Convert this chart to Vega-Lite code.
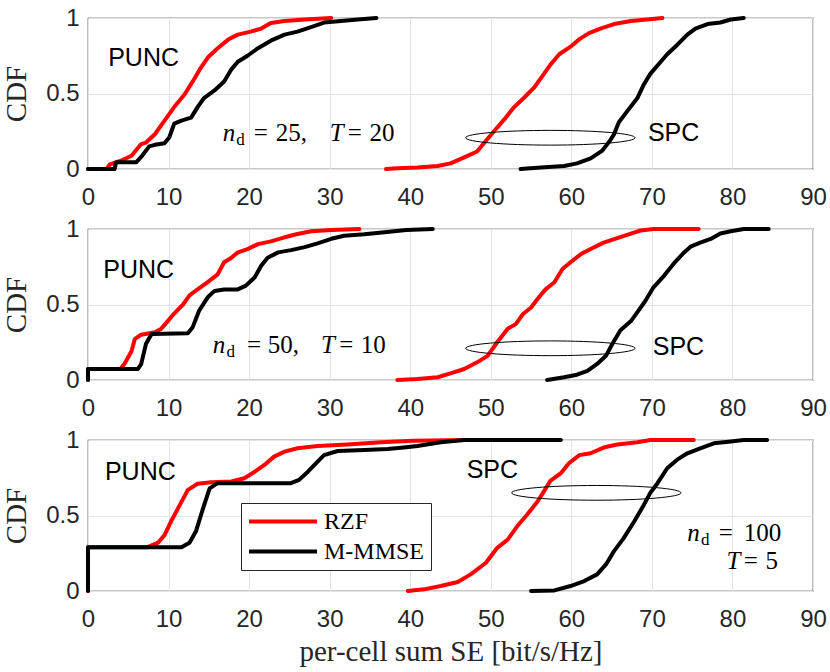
{
  "$schema": "https://vega.github.io/schema/vega-lite/v6.json",
  "padding": {"left": 2, "top": 5, "right": 2, "bottom": 2},
  "background": "white",
  "datasets": {
    "curves": [
      {"p":1,"m":"RZF","g":"PUNC","x":0,"y":0},{"p":1,"m":"RZF","g":"PUNC","x":2.3,"y":0},{"p":1,"m":"RZF","g":"PUNC","x":2.7,"y":0.03},{"p":1,"m":"RZF","g":"PUNC","x":4.1,"y":0.055},{"p":1,"m":"RZF","g":"PUNC","x":5.4,"y":0.088},{"p":1,"m":"RZF","g":"PUNC","x":6.6,"y":0.165},{"p":1,"m":"RZF","g":"PUNC","x":7.2,"y":0.175},{"p":1,"m":"RZF","g":"PUNC","x":8.3,"y":0.23},{"p":1,"m":"RZF","g":"PUNC","x":9.5,"y":0.32},{"p":1,"m":"RZF","g":"PUNC","x":10.7,"y":0.41},{"p":1,"m":"RZF","g":"PUNC","x":12.0,"y":0.495},{"p":1,"m":"RZF","g":"PUNC","x":13.0,"y":0.58},{"p":1,"m":"RZF","g":"PUNC","x":14.0,"y":0.67},{"p":1,"m":"RZF","g":"PUNC","x":14.9,"y":0.74},{"p":1,"m":"RZF","g":"PUNC","x":16.1,"y":0.8},{"p":1,"m":"RZF","g":"PUNC","x":17.4,"y":0.857},{"p":1,"m":"RZF","g":"PUNC","x":18.6,"y":0.89},{"p":1,"m":"RZF","g":"PUNC","x":20.2,"y":0.91},{"p":1,"m":"RZF","g":"PUNC","x":21.5,"y":0.93},{"p":1,"m":"RZF","g":"PUNC","x":22.7,"y":0.967},{"p":1,"m":"RZF","g":"PUNC","x":24.4,"y":0.98},{"p":1,"m":"RZF","g":"PUNC","x":26.9,"y":0.99},{"p":1,"m":"RZF","g":"PUNC","x":30.2,"y":1.0},
      {"p":1,"m":"M-MMSE","g":"PUNC","x":0,"y":0},{"p":1,"m":"M-MMSE","g":"PUNC","x":3.3,"y":0},{"p":1,"m":"M-MMSE","g":"PUNC","x":3.5,"y":0.045},{"p":1,"m":"M-MMSE","g":"PUNC","x":6.0,"y":0.045},{"p":1,"m":"M-MMSE","g":"PUNC","x":6.6,"y":0.08},{"p":1,"m":"M-MMSE","g":"PUNC","x":7.6,"y":0.15},{"p":1,"m":"M-MMSE","g":"PUNC","x":8.3,"y":0.16},{"p":1,"m":"M-MMSE","g":"PUNC","x":9.5,"y":0.17},{"p":1,"m":"M-MMSE","g":"PUNC","x":10.1,"y":0.21},{"p":1,"m":"M-MMSE","g":"PUNC","x":10.7,"y":0.3},{"p":1,"m":"M-MMSE","g":"PUNC","x":11.6,"y":0.32},{"p":1,"m":"M-MMSE","g":"PUNC","x":12.8,"y":0.34},{"p":1,"m":"M-MMSE","g":"PUNC","x":13.6,"y":0.41},{"p":1,"m":"M-MMSE","g":"PUNC","x":14.4,"y":0.47},{"p":1,"m":"M-MMSE","g":"PUNC","x":15.7,"y":0.52},{"p":1,"m":"M-MMSE","g":"PUNC","x":16.9,"y":0.58},{"p":1,"m":"M-MMSE","g":"PUNC","x":17.8,"y":0.66},{"p":1,"m":"M-MMSE","g":"PUNC","x":18.6,"y":0.71},{"p":1,"m":"M-MMSE","g":"PUNC","x":19.8,"y":0.75},{"p":1,"m":"M-MMSE","g":"PUNC","x":21.1,"y":0.8},{"p":1,"m":"M-MMSE","g":"PUNC","x":22.7,"y":0.85},{"p":1,"m":"M-MMSE","g":"PUNC","x":24.4,"y":0.89},{"p":1,"m":"M-MMSE","g":"PUNC","x":26.0,"y":0.91},{"p":1,"m":"M-MMSE","g":"PUNC","x":27.7,"y":0.94},{"p":1,"m":"M-MMSE","g":"PUNC","x":29.3,"y":0.97},{"p":1,"m":"M-MMSE","g":"PUNC","x":31.4,"y":0.98},{"p":1,"m":"M-MMSE","g":"PUNC","x":33.5,"y":0.99},{"p":1,"m":"M-MMSE","g":"PUNC","x":35.8,"y":1.0},
      {"p":1,"m":"RZF","g":"SPC","x":37.0,"y":0},{"p":1,"m":"RZF","g":"SPC","x":38.4,"y":0.005},{"p":1,"m":"RZF","g":"SPC","x":40.9,"y":0.01},{"p":1,"m":"RZF","g":"SPC","x":43.4,"y":0.02},{"p":1,"m":"RZF","g":"SPC","x":45.0,"y":0.037},{"p":1,"m":"RZF","g":"SPC","x":46.7,"y":0.077},{"p":1,"m":"RZF","g":"SPC","x":48.3,"y":0.116},{"p":1,"m":"RZF","g":"SPC","x":49.4,"y":0.187},{"p":1,"m":"RZF","g":"SPC","x":50.4,"y":0.25},{"p":1,"m":"RZF","g":"SPC","x":51.7,"y":0.33},{"p":1,"m":"RZF","g":"SPC","x":52.9,"y":0.41},{"p":1,"m":"RZF","g":"SPC","x":54.1,"y":0.47},{"p":1,"m":"RZF","g":"SPC","x":55.4,"y":0.54},{"p":1,"m":"RZF","g":"SPC","x":56.6,"y":0.63},{"p":1,"m":"RZF","g":"SPC","x":57.4,"y":0.69},{"p":1,"m":"RZF","g":"SPC","x":58.5,"y":0.76},{"p":1,"m":"RZF","g":"SPC","x":59.9,"y":0.81},{"p":1,"m":"RZF","g":"SPC","x":61.0,"y":0.86},{"p":1,"m":"RZF","g":"SPC","x":62.2,"y":0.9},{"p":1,"m":"RZF","g":"SPC","x":63.6,"y":0.93},{"p":1,"m":"RZF","g":"SPC","x":65.3,"y":0.96},{"p":1,"m":"RZF","g":"SPC","x":67.4,"y":0.98},{"p":1,"m":"RZF","g":"SPC","x":69.4,"y":0.99},{"p":1,"m":"RZF","g":"SPC","x":71.3,"y":1.0},
      {"p":1,"m":"M-MMSE","g":"SPC","x":53.7,"y":0},{"p":1,"m":"M-MMSE","g":"SPC","x":56.2,"y":0.01},{"p":1,"m":"M-MMSE","g":"SPC","x":59.1,"y":0.02},{"p":1,"m":"M-MMSE","g":"SPC","x":60.7,"y":0.037},{"p":1,"m":"M-MMSE","g":"SPC","x":62.4,"y":0.07},{"p":1,"m":"M-MMSE","g":"SPC","x":63.8,"y":0.12},{"p":1,"m":"M-MMSE","g":"SPC","x":64.7,"y":0.18},{"p":1,"m":"M-MMSE","g":"SPC","x":65.3,"y":0.23},{"p":1,"m":"M-MMSE","g":"SPC","x":65.9,"y":0.31},{"p":1,"m":"M-MMSE","g":"SPC","x":66.9,"y":0.38},{"p":1,"m":"M-MMSE","g":"SPC","x":68.2,"y":0.47},{"p":1,"m":"M-MMSE","g":"SPC","x":69.0,"y":0.56},{"p":1,"m":"M-MMSE","g":"SPC","x":69.8,"y":0.63},{"p":1,"m":"M-MMSE","g":"SPC","x":71.1,"y":0.71},{"p":1,"m":"M-MMSE","g":"SPC","x":71.9,"y":0.76},{"p":1,"m":"M-MMSE","g":"SPC","x":73.1,"y":0.82},{"p":1,"m":"M-MMSE","g":"SPC","x":74.4,"y":0.89},{"p":1,"m":"M-MMSE","g":"SPC","x":75.4,"y":0.93},{"p":1,"m":"M-MMSE","g":"SPC","x":76.9,"y":0.96},{"p":1,"m":"M-MMSE","g":"SPC","x":78.5,"y":0.97},{"p":1,"m":"M-MMSE","g":"SPC","x":79.8,"y":0.99},{"p":1,"m":"M-MMSE","g":"SPC","x":81.4,"y":1.0},
      {"p":2,"m":"RZF","g":"PUNC","x":0,"y":0},{"p":2,"m":"RZF","g":"PUNC","x":0,"y":0.073},{"p":2,"m":"RZF","g":"PUNC","x":4.0,"y":0.073},{"p":2,"m":"RZF","g":"PUNC","x":4.5,"y":0.105},{"p":2,"m":"RZF","g":"PUNC","x":5.4,"y":0.19},{"p":2,"m":"RZF","g":"PUNC","x":5.8,"y":0.27},{"p":2,"m":"RZF","g":"PUNC","x":6.6,"y":0.3},{"p":2,"m":"RZF","g":"PUNC","x":8.3,"y":0.316},{"p":2,"m":"RZF","g":"PUNC","x":9.1,"y":0.34},{"p":2,"m":"RZF","g":"PUNC","x":9.9,"y":0.39},{"p":2,"m":"RZF","g":"PUNC","x":10.7,"y":0.44},{"p":2,"m":"RZF","g":"PUNC","x":11.8,"y":0.5},{"p":2,"m":"RZF","g":"PUNC","x":12.6,"y":0.56},{"p":2,"m":"RZF","g":"PUNC","x":13.6,"y":0.6},{"p":2,"m":"RZF","g":"PUNC","x":14.9,"y":0.65},{"p":2,"m":"RZF","g":"PUNC","x":16.1,"y":0.7},{"p":2,"m":"RZF","g":"PUNC","x":16.9,"y":0.78},{"p":2,"m":"RZF","g":"PUNC","x":17.8,"y":0.81},{"p":2,"m":"RZF","g":"PUNC","x":18.6,"y":0.845},{"p":2,"m":"RZF","g":"PUNC","x":19.8,"y":0.867},{"p":2,"m":"RZF","g":"PUNC","x":21.1,"y":0.9},{"p":2,"m":"RZF","g":"PUNC","x":22.7,"y":0.918},{"p":2,"m":"RZF","g":"PUNC","x":24.4,"y":0.945},{"p":2,"m":"RZF","g":"PUNC","x":26.0,"y":0.967},{"p":2,"m":"RZF","g":"PUNC","x":27.7,"y":0.985},{"p":2,"m":"RZF","g":"PUNC","x":30.2,"y":0.993},{"p":2,"m":"RZF","g":"PUNC","x":33.7,"y":1.0},
      {"p":2,"m":"M-MMSE","g":"PUNC","x":0,"y":0},{"p":2,"m":"M-MMSE","g":"PUNC","x":0,"y":0.073},{"p":2,"m":"M-MMSE","g":"PUNC","x":6.2,"y":0.073},{"p":2,"m":"M-MMSE","g":"PUNC","x":6.6,"y":0.105},{"p":2,"m":"M-MMSE","g":"PUNC","x":7.2,"y":0.24},{"p":2,"m":"M-MMSE","g":"PUNC","x":7.9,"y":0.305},{"p":2,"m":"M-MMSE","g":"PUNC","x":12.4,"y":0.31},{"p":2,"m":"M-MMSE","g":"PUNC","x":13.0,"y":0.35},{"p":2,"m":"M-MMSE","g":"PUNC","x":13.8,"y":0.46},{"p":2,"m":"M-MMSE","g":"PUNC","x":14.9,"y":0.55},{"p":2,"m":"M-MMSE","g":"PUNC","x":15.7,"y":0.59},{"p":2,"m":"M-MMSE","g":"PUNC","x":16.9,"y":0.6},{"p":2,"m":"M-MMSE","g":"PUNC","x":18.6,"y":0.6},{"p":2,"m":"M-MMSE","g":"PUNC","x":19.6,"y":0.625},{"p":2,"m":"M-MMSE","g":"PUNC","x":20.7,"y":0.68},{"p":2,"m":"M-MMSE","g":"PUNC","x":21.5,"y":0.757},{"p":2,"m":"M-MMSE","g":"PUNC","x":22.3,"y":0.81},{"p":2,"m":"M-MMSE","g":"PUNC","x":23.6,"y":0.845},{"p":2,"m":"M-MMSE","g":"PUNC","x":25.2,"y":0.86},{"p":2,"m":"M-MMSE","g":"PUNC","x":26.9,"y":0.88},{"p":2,"m":"M-MMSE","g":"PUNC","x":28.5,"y":0.905},{"p":2,"m":"M-MMSE","g":"PUNC","x":30.2,"y":0.935},{"p":2,"m":"M-MMSE","g":"PUNC","x":31.8,"y":0.955},{"p":2,"m":"M-MMSE","g":"PUNC","x":34.3,"y":0.965},{"p":2,"m":"M-MMSE","g":"PUNC","x":36.8,"y":0.978},{"p":2,"m":"M-MMSE","g":"PUNC","x":39.5,"y":0.993},{"p":2,"m":"M-MMSE","g":"PUNC","x":42.8,"y":1.0},
      {"p":2,"m":"RZF","g":"SPC","x":38.4,"y":0},{"p":2,"m":"RZF","g":"SPC","x":40.9,"y":0.007},{"p":2,"m":"RZF","g":"SPC","x":43.4,"y":0.018},{"p":2,"m":"RZF","g":"SPC","x":45.0,"y":0.044},{"p":2,"m":"RZF","g":"SPC","x":46.7,"y":0.073},{"p":2,"m":"RZF","g":"SPC","x":48.3,"y":0.117},{"p":2,"m":"RZF","g":"SPC","x":49.6,"y":0.16},{"p":2,"m":"RZF","g":"SPC","x":50.8,"y":0.25},{"p":2,"m":"RZF","g":"SPC","x":52.1,"y":0.34},{"p":2,"m":"RZF","g":"SPC","x":53.1,"y":0.37},{"p":2,"m":"RZF","g":"SPC","x":54.0,"y":0.437},{"p":2,"m":"RZF","g":"SPC","x":55.0,"y":0.48},{"p":2,"m":"RZF","g":"SPC","x":55.8,"y":0.536},{"p":2,"m":"RZF","g":"SPC","x":56.8,"y":0.6},{"p":2,"m":"RZF","g":"SPC","x":57.9,"y":0.647},{"p":2,"m":"RZF","g":"SPC","x":58.9,"y":0.735},{"p":2,"m":"RZF","g":"SPC","x":59.9,"y":0.78},{"p":2,"m":"RZF","g":"SPC","x":61.2,"y":0.834},{"p":2,"m":"RZF","g":"SPC","x":62.4,"y":0.868},{"p":2,"m":"RZF","g":"SPC","x":64.0,"y":0.91},{"p":2,"m":"RZF","g":"SPC","x":65.7,"y":0.94},{"p":2,"m":"RZF","g":"SPC","x":67.4,"y":0.97},{"p":2,"m":"RZF","g":"SPC","x":68.6,"y":0.99},{"p":2,"m":"RZF","g":"SPC","x":70.2,"y":1.0},{"p":2,"m":"RZF","g":"SPC","x":75.8,"y":1.0},
      {"p":2,"m":"M-MMSE","g":"SPC","x":57.0,"y":0},{"p":2,"m":"M-MMSE","g":"SPC","x":59.1,"y":0.018},{"p":2,"m":"M-MMSE","g":"SPC","x":60.7,"y":0.035},{"p":2,"m":"M-MMSE","g":"SPC","x":62.0,"y":0.06},{"p":2,"m":"M-MMSE","g":"SPC","x":63.2,"y":0.106},{"p":2,"m":"M-MMSE","g":"SPC","x":64.3,"y":0.16},{"p":2,"m":"M-MMSE","g":"SPC","x":65.1,"y":0.24},{"p":2,"m":"M-MMSE","g":"SPC","x":66.1,"y":0.33},{"p":2,"m":"M-MMSE","g":"SPC","x":67.4,"y":0.39},{"p":2,"m":"M-MMSE","g":"SPC","x":68.2,"y":0.45},{"p":2,"m":"M-MMSE","g":"SPC","x":69.2,"y":0.525},{"p":2,"m":"M-MMSE","g":"SPC","x":70.2,"y":0.614},{"p":2,"m":"M-MMSE","g":"SPC","x":71.5,"y":0.69},{"p":2,"m":"M-MMSE","g":"SPC","x":72.7,"y":0.77},{"p":2,"m":"M-MMSE","g":"SPC","x":74.0,"y":0.845},{"p":2,"m":"M-MMSE","g":"SPC","x":74.8,"y":0.883},{"p":2,"m":"M-MMSE","g":"SPC","x":76.0,"y":0.91},{"p":2,"m":"M-MMSE","g":"SPC","x":77.3,"y":0.934},{"p":2,"m":"M-MMSE","g":"SPC","x":78.5,"y":0.97},{"p":2,"m":"M-MMSE","g":"SPC","x":79.8,"y":0.985},{"p":2,"m":"M-MMSE","g":"SPC","x":81.4,"y":1.0},{"p":2,"m":"M-MMSE","g":"SPC","x":84.5,"y":1.0},
      {"p":3,"m":"RZF","g":"PUNC","x":0,"y":0},{"p":3,"m":"RZF","g":"PUNC","x":0,"y":0.29},{"p":3,"m":"RZF","g":"PUNC","x":7.4,"y":0.29},{"p":3,"m":"RZF","g":"PUNC","x":8.7,"y":0.32},{"p":3,"m":"RZF","g":"PUNC","x":9.5,"y":0.37},{"p":3,"m":"RZF","g":"PUNC","x":10.3,"y":0.46},{"p":3,"m":"RZF","g":"PUNC","x":11.4,"y":0.57},{"p":3,"m":"RZF","g":"PUNC","x":12.4,"y":0.67},{"p":3,"m":"RZF","g":"PUNC","x":13.6,"y":0.71},{"p":3,"m":"RZF","g":"PUNC","x":15.3,"y":0.72},{"p":3,"m":"RZF","g":"PUNC","x":17.8,"y":0.725},{"p":3,"m":"RZF","g":"PUNC","x":19.4,"y":0.747},{"p":3,"m":"RZF","g":"PUNC","x":20.7,"y":0.79},{"p":3,"m":"RZF","g":"PUNC","x":21.9,"y":0.835},{"p":3,"m":"RZF","g":"PUNC","x":23.1,"y":0.89},{"p":3,"m":"RZF","g":"PUNC","x":24.4,"y":0.923},{"p":3,"m":"RZF","g":"PUNC","x":26.0,"y":0.945},{"p":3,"m":"RZF","g":"PUNC","x":28.5,"y":0.96},{"p":3,"m":"RZF","g":"PUNC","x":32.2,"y":0.97},{"p":3,"m":"RZF","g":"PUNC","x":36.4,"y":0.985},{"p":3,"m":"RZF","g":"PUNC","x":40.3,"y":0.995},{"p":3,"m":"RZF","g":"PUNC","x":46.9,"y":1.0},
      {"p":3,"m":"M-MMSE","g":"PUNC","x":0,"y":0},{"p":3,"m":"M-MMSE","g":"PUNC","x":0,"y":0.29},{"p":3,"m":"M-MMSE","g":"PUNC","x":11.6,"y":0.29},{"p":3,"m":"M-MMSE","g":"PUNC","x":12.6,"y":0.32},{"p":3,"m":"M-MMSE","g":"PUNC","x":13.4,"y":0.395},{"p":3,"m":"M-MMSE","g":"PUNC","x":14.3,"y":0.55},{"p":3,"m":"M-MMSE","g":"PUNC","x":15.1,"y":0.68},{"p":3,"m":"M-MMSE","g":"PUNC","x":16.1,"y":0.714},{"p":3,"m":"M-MMSE","g":"PUNC","x":25.2,"y":0.714},{"p":3,"m":"M-MMSE","g":"PUNC","x":26.2,"y":0.736},{"p":3,"m":"M-MMSE","g":"PUNC","x":27.3,"y":0.79},{"p":3,"m":"M-MMSE","g":"PUNC","x":28.5,"y":0.857},{"p":3,"m":"M-MMSE","g":"PUNC","x":29.3,"y":0.9},{"p":3,"m":"M-MMSE","g":"PUNC","x":31.0,"y":0.927},{"p":3,"m":"M-MMSE","g":"PUNC","x":34.3,"y":0.934},{"p":3,"m":"M-MMSE","g":"PUNC","x":37.2,"y":0.94},{"p":3,"m":"M-MMSE","g":"PUNC","x":39.5,"y":0.952},{"p":3,"m":"M-MMSE","g":"PUNC","x":40.9,"y":0.96},{"p":3,"m":"M-MMSE","g":"PUNC","x":43.8,"y":0.985},{"p":3,"m":"M-MMSE","g":"PUNC","x":46.7,"y":1.0},{"p":3,"m":"M-MMSE","g":"PUNC","x":58.7,"y":1.0},
      {"p":3,"m":"RZF","g":"SPC","x":39.7,"y":0},{"p":3,"m":"RZF","g":"SPC","x":41.7,"y":0.011},{"p":3,"m":"RZF","g":"SPC","x":43.8,"y":0.033},{"p":3,"m":"RZF","g":"SPC","x":45.9,"y":0.06},{"p":3,"m":"RZF","g":"SPC","x":47.5,"y":0.11},{"p":3,"m":"RZF","g":"SPC","x":49.4,"y":0.187},{"p":3,"m":"RZF","g":"SPC","x":50.8,"y":0.286},{"p":3,"m":"RZF","g":"SPC","x":52.1,"y":0.34},{"p":3,"m":"RZF","g":"SPC","x":53.3,"y":0.43},{"p":3,"m":"RZF","g":"SPC","x":54.5,"y":0.505},{"p":3,"m":"RZF","g":"SPC","x":55.8,"y":0.593},{"p":3,"m":"RZF","g":"SPC","x":56.6,"y":0.66},{"p":3,"m":"RZF","g":"SPC","x":57.4,"y":0.73},{"p":3,"m":"RZF","g":"SPC","x":58.7,"y":0.78},{"p":3,"m":"RZF","g":"SPC","x":59.7,"y":0.846},{"p":3,"m":"RZF","g":"SPC","x":61.0,"y":0.9},{"p":3,"m":"RZF","g":"SPC","x":62.4,"y":0.912},{"p":3,"m":"RZF","g":"SPC","x":64.0,"y":0.95},{"p":3,"m":"RZF","g":"SPC","x":65.7,"y":0.97},{"p":3,"m":"RZF","g":"SPC","x":68.2,"y":0.985},{"p":3,"m":"RZF","g":"SPC","x":69.8,"y":1.0},{"p":3,"m":"RZF","g":"SPC","x":75.2,"y":1.0},
      {"p":3,"m":"M-MMSE","g":"SPC","x":55.0,"y":0},{"p":3,"m":"M-MMSE","g":"SPC","x":57.9,"y":0.004},{"p":3,"m":"M-MMSE","g":"SPC","x":59.9,"y":0.033},{"p":3,"m":"M-MMSE","g":"SPC","x":61.6,"y":0.066},{"p":3,"m":"M-MMSE","g":"SPC","x":63.2,"y":0.11},{"p":3,"m":"M-MMSE","g":"SPC","x":64.3,"y":0.176},{"p":3,"m":"M-MMSE","g":"SPC","x":65.3,"y":0.264},{"p":3,"m":"M-MMSE","g":"SPC","x":66.5,"y":0.35},{"p":3,"m":"M-MMSE","g":"SPC","x":67.8,"y":0.46},{"p":3,"m":"M-MMSE","g":"SPC","x":69.0,"y":0.57},{"p":3,"m":"M-MMSE","g":"SPC","x":69.8,"y":0.65},{"p":3,"m":"M-MMSE","g":"SPC","x":70.7,"y":0.714},{"p":3,"m":"M-MMSE","g":"SPC","x":71.9,"y":0.813},{"p":3,"m":"M-MMSE","g":"SPC","x":73.1,"y":0.868},{"p":3,"m":"M-MMSE","g":"SPC","x":74.4,"y":0.912},{"p":3,"m":"M-MMSE","g":"SPC","x":76.0,"y":0.945},{"p":3,"m":"M-MMSE","g":"SPC","x":77.7,"y":0.978},{"p":3,"m":"M-MMSE","g":"SPC","x":79.8,"y":0.99},{"p":3,"m":"M-MMSE","g":"SPC","x":81.4,"y":1.0},{"p":3,"m":"M-MMSE","g":"SPC","x":84.3,"y":1.0}
    ],
    "labels": [
      {"p":1,"x":6.9,"y":0.735,"t":"PUNC"},{"p":1,"x":72.7,"y":0.24,"t":"SPC"},
      {"p":2,"x":6.3,"y":0.73,"t":"PUNC"},{"p":2,"x":73.3,"y":0.22,"t":"SPC"},
      {"p":3,"x":6.5,"y":0.79,"t":"PUNC"},{"p":3,"x":50.2,"y":0.8,"t":"SPC"}
    ],
    "ellipses": [
      {"p":1,"x":57.4,"y":0.207},{"p":2,"x":57.4,"y":0.21},{"p":3,"x":63.1,"y":0.65}
    ],
    "math": [
      {"p":1,"k":"var","x":16.73,"y":0.183,"t":"n"},{"p":1,"k":"sub","x":18.4,"y":0.183,"t":"d"},{"p":1,"k":"num","x":20.58,"y":0.183,"t":"="},{"p":1,"k":"num","x":23.31,"y":0.183,"t":"25,"},{"p":1,"k":"var","x":30.0,"y":0.183,"t":"T"},{"p":1,"k":"num","x":32.23,"y":0.183,"t":"="},{"p":1,"k":"num","x":34.95,"y":0.183,"t":"20"},
      {"p":2,"k":"var","x":15.5,"y":0.18,"t":"n"},{"p":2,"k":"sub","x":17.2,"y":0.18,"t":"d"},{"p":2,"k":"num","x":19.75,"y":0.18,"t":"="},{"p":2,"k":"num","x":22.31,"y":0.18,"t":"50,"},{"p":2,"k":"var","x":28.93,"y":0.18,"t":"T"},{"p":2,"k":"num","x":31.2,"y":0.18,"t":"="},{"p":2,"k":"num","x":33.87,"y":0.18,"t":"10"},
      {"p":3,"k":"var","x":74.4,"y":0.331,"t":"n"},{"p":3,"k":"sub","x":76.1,"y":0.331,"t":"d"},{"p":3,"k":"num","x":78.3,"y":0.331,"t":"="},{"p":3,"k":"num","x":81.4,"y":0.331,"t":"100"},
      {"p":3,"k":"var","x":79.25,"y":0.144,"t":"T"},{"p":3,"k":"num","x":81.4,"y":0.144,"t":"="},{"p":3,"k":"num","x":84.1,"y":0.144,"t":"5"}
    ]
  },
  "vconcat": [
    {
      "width": 725, "height": 151,
      "layer": [
        {"data": {"name": "curves"}, "transform": [{"filter": "datum.p == 1"}],
         "mark": {"type": "line", "strokeWidth": 4, "strokeJoin": "round", "strokeCap": "round"},
         "encoding": {
           "x": {"field": "x", "type": "quantitative", "scale": {"domain": [0, 90]}, "axis": {"title": null, "values": [0, 10, 20, 30, 40, 50, 60, 70, 80, 90]}},
           "y": {"field": "y", "type": "quantitative", "scale": {"domain": [0, 1]}, "axis": {"title": "CDF", "values": [0, 0.5, 1], "format": "~g"}},
           "color": {"field": "m", "type": "nominal", "scale": {"domain": ["RZF", "M-MMSE"], "range": ["#ff0000", "#000000"]}, "legend": null},
           "detail": {"field": "g"},
           "order": [{"field": "x"}, {"field": "y"}]
         }},
        {"data": {"name": "ellipses"}, "transform": [{"filter": "datum.p == 1"}],
         "mark": {"type": "point", "shape": "M -1 0 C -1 -0.048 -0.552 -0.087 0 -0.087 C 0.552 -0.087 1 -0.048 1 0 C 1 0.048 0.552 0.087 0 0.087 C -0.552 0.087 -1 0.048 -1 0 Z", "size": 28700, "filled": false, "stroke": "black", "strokeWidth": 1, "opacity": 1},
         "encoding": {"x": {"field": "x", "type": "quantitative"}, "y": {"field": "y", "type": "quantitative"}}},
        {"data": {"name": "labels"}, "transform": [{"filter": "datum.p == 1"}],
         "mark": {"type": "text", "font": "Liberation Sans", "fontSize": 25, "color": "black", "baseline": "middle", "align": "center"},
         "encoding": {"x": {"field": "x", "type": "quantitative"}, "y": {"field": "y", "type": "quantitative"}, "text": {"field": "t"}}},
        {"data": {"name": "math"}, "transform": [{"filter": "datum.p == 1 && datum.k == 'var'"}],
         "mark": {"type": "text", "font": "Liberation Serif", "fontSize": 25, "fontStyle": "italic", "color": "black", "baseline": "alphabetic", "align": "left"},
         "encoding": {"x": {"field": "x", "type": "quantitative"}, "y": {"field": "y", "type": "quantitative"}, "text": {"field": "t"}}},
        {"data": {"name": "math"}, "transform": [{"filter": "datum.p == 1 && datum.k == 'num'"}],
         "mark": {"type": "text", "font": "Liberation Serif", "fontSize": 25, "color": "black", "baseline": "alphabetic", "align": "left"},
         "encoding": {"x": {"field": "x", "type": "quantitative"}, "y": {"field": "y", "type": "quantitative"}, "text": {"field": "t"}}},
        {"data": {"name": "math"}, "transform": [{"filter": "datum.p == 1 && datum.k == 'sub'"}],
         "mark": {"type": "text", "font": "Liberation Serif", "fontSize": 17, "color": "black", "baseline": "alphabetic", "align": "left", "dy": 4},
         "encoding": {"x": {"field": "x", "type": "quantitative"}, "y": {"field": "y", "type": "quantitative"}, "text": {"field": "t"}}}
      ]
    },
    {
      "width": 725, "height": 151,
      "layer": [
        {"data": {"name": "curves"}, "transform": [{"filter": "datum.p == 2"}],
         "mark": {"type": "line", "strokeWidth": 4, "strokeJoin": "round", "strokeCap": "round"},
         "encoding": {
           "x": {"field": "x", "type": "quantitative", "scale": {"domain": [0, 90]}, "axis": {"title": null, "values": [0, 10, 20, 30, 40, 50, 60, 70, 80, 90]}},
           "y": {"field": "y", "type": "quantitative", "scale": {"domain": [0, 1]}, "axis": {"title": "CDF", "values": [0, 0.5, 1], "format": "~g"}},
           "color": {"field": "m", "type": "nominal", "scale": {"domain": ["RZF", "M-MMSE"], "range": ["#ff0000", "#000000"]}, "legend": null},
           "detail": {"field": "g"},
           "order": [{"field": "x"}, {"field": "y"}]
         }},
        {"data": {"name": "ellipses"}, "transform": [{"filter": "datum.p == 2"}],
         "mark": {"type": "point", "shape": "M -1 0 C -1 -0.048 -0.552 -0.087 0 -0.087 C 0.552 -0.087 1 -0.048 1 0 C 1 0.048 0.552 0.087 0 0.087 C -0.552 0.087 -1 0.048 -1 0 Z", "size": 28700, "filled": false, "stroke": "black", "strokeWidth": 1, "opacity": 1},
         "encoding": {"x": {"field": "x", "type": "quantitative"}, "y": {"field": "y", "type": "quantitative"}}},
        {"data": {"name": "labels"}, "transform": [{"filter": "datum.p == 2"}],
         "mark": {"type": "text", "font": "Liberation Sans", "fontSize": 25, "color": "black", "baseline": "middle", "align": "center"},
         "encoding": {"x": {"field": "x", "type": "quantitative"}, "y": {"field": "y", "type": "quantitative"}, "text": {"field": "t"}}},
        {"data": {"name": "math"}, "transform": [{"filter": "datum.p == 2 && datum.k == 'var'"}],
         "mark": {"type": "text", "font": "Liberation Serif", "fontSize": 25, "fontStyle": "italic", "color": "black", "baseline": "alphabetic", "align": "left"},
         "encoding": {"x": {"field": "x", "type": "quantitative"}, "y": {"field": "y", "type": "quantitative"}, "text": {"field": "t"}}},
        {"data": {"name": "math"}, "transform": [{"filter": "datum.p == 2 && datum.k == 'num'"}],
         "mark": {"type": "text", "font": "Liberation Serif", "fontSize": 25, "color": "black", "baseline": "alphabetic", "align": "left"},
         "encoding": {"x": {"field": "x", "type": "quantitative"}, "y": {"field": "y", "type": "quantitative"}, "text": {"field": "t"}}},
        {"data": {"name": "math"}, "transform": [{"filter": "datum.p == 2 && datum.k == 'sub'"}],
         "mark": {"type": "text", "font": "Liberation Serif", "fontSize": 17, "color": "black", "baseline": "alphabetic", "align": "left", "dy": 4},
         "encoding": {"x": {"field": "x", "type": "quantitative"}, "y": {"field": "y", "type": "quantitative"}, "text": {"field": "t"}}}
      ]
    },
    {
      "width": 725, "height": 151,
      "layer": [
        {"data": {"name": "curves"}, "transform": [{"filter": "datum.p == 3"}],
         "mark": {"type": "line", "strokeWidth": 4, "strokeJoin": "round", "strokeCap": "round"},
         "encoding": {
           "x": {"field": "x", "type": "quantitative", "scale": {"domain": [0, 90]}, "axis": {"title": "per-cell sum SE [bit/s/Hz]", "values": [0, 10, 20, 30, 40, 50, 60, 70, 80, 90]}},
           "y": {"field": "y", "type": "quantitative", "scale": {"domain": [0, 1]}, "axis": {"title": "CDF", "values": [0, 0.5, 1], "format": "~g"}},
           "color": {"field": "m", "type": "nominal", "scale": {"domain": ["RZF", "M-MMSE"], "range": ["#ff0000", "#000000"]},
             "legend": {"orient": "none", "legendX": 153, "legendY": 63, "title": null, "symbolType": "stroke", "symbolSize": 4624, "symbolStrokeWidth": 4, "clipHeight": 25, "rowPadding": 5, "padding": 6, "labelOffset": 5, "labelFont": "Liberation Serif", "labelFontSize": 24, "labelColor": "black", "strokeColor": "#262626", "fillColor": "white"}},
           "detail": {"field": "g"},
           "order": [{"field": "x"}, {"field": "y"}]
         }},
        {"data": {"name": "ellipses"}, "transform": [{"filter": "datum.p == 3"}],
         "mark": {"type": "point", "shape": "M -1 0 C -1 -0.048 -0.552 -0.087 0 -0.087 C 0.552 -0.087 1 -0.048 1 0 C 1 0.048 0.552 0.087 0 0.087 C -0.552 0.087 -1 0.048 -1 0 Z", "size": 28700, "filled": false, "stroke": "black", "strokeWidth": 1, "opacity": 1},
         "encoding": {"x": {"field": "x", "type": "quantitative"}, "y": {"field": "y", "type": "quantitative"}}},
        {"data": {"name": "labels"}, "transform": [{"filter": "datum.p == 3"}],
         "mark": {"type": "text", "font": "Liberation Sans", "fontSize": 25, "color": "black", "baseline": "middle", "align": "center"},
         "encoding": {"x": {"field": "x", "type": "quantitative"}, "y": {"field": "y", "type": "quantitative"}, "text": {"field": "t"}}},
        {"data": {"name": "math"}, "transform": [{"filter": "datum.p == 3 && datum.k == 'var'"}],
         "mark": {"type": "text", "font": "Liberation Serif", "fontSize": 25, "fontStyle": "italic", "color": "black", "baseline": "alphabetic", "align": "left"},
         "encoding": {"x": {"field": "x", "type": "quantitative"}, "y": {"field": "y", "type": "quantitative"}, "text": {"field": "t"}}},
        {"data": {"name": "math"}, "transform": [{"filter": "datum.p == 3 && datum.k == 'num'"}],
         "mark": {"type": "text", "font": "Liberation Serif", "fontSize": 25, "color": "black", "baseline": "alphabetic", "align": "left"},
         "encoding": {"x": {"field": "x", "type": "quantitative"}, "y": {"field": "y", "type": "quantitative"}, "text": {"field": "t"}}},
        {"data": {"name": "math"}, "transform": [{"filter": "datum.p == 3 && datum.k == 'sub'"}],
         "mark": {"type": "text", "font": "Liberation Serif", "fontSize": 17, "color": "black", "baseline": "alphabetic", "align": "left", "dy": 4},
         "encoding": {"x": {"field": "x", "type": "quantitative"}, "y": {"field": "y", "type": "quantitative"}, "text": {"field": "t"}}}
      ]
    }
  ],
  "spacing": 60,
  "bounds": "flush",
  "resolve": {"scale": {"color": "independent", "x": "independent", "y": "independent"}, "legend": {"color": "independent"}},
  "config": {
    "view": {"stroke": "#262626", "strokeWidth": 1.2},
    "axis": {"domain": false, "ticks": false, "grid": true, "gridColor": "#e3e3e3", "gridWidth": 1,
      "labelFont": "Liberation Sans", "labelFontSize": 24, "labelColor": "#262626",
      "titleFont": "Liberation Serif", "titleFontSize": 29, "titleFontWeight": "normal", "titleColor": "#262626"},
    "axisX": {"labelPadding": 16, "titlePadding": 6, "labelOverlap": false, "labelFlush": false},
    "axisY": {"labelPadding": 9, "titlePadding": 14}
  }
}
